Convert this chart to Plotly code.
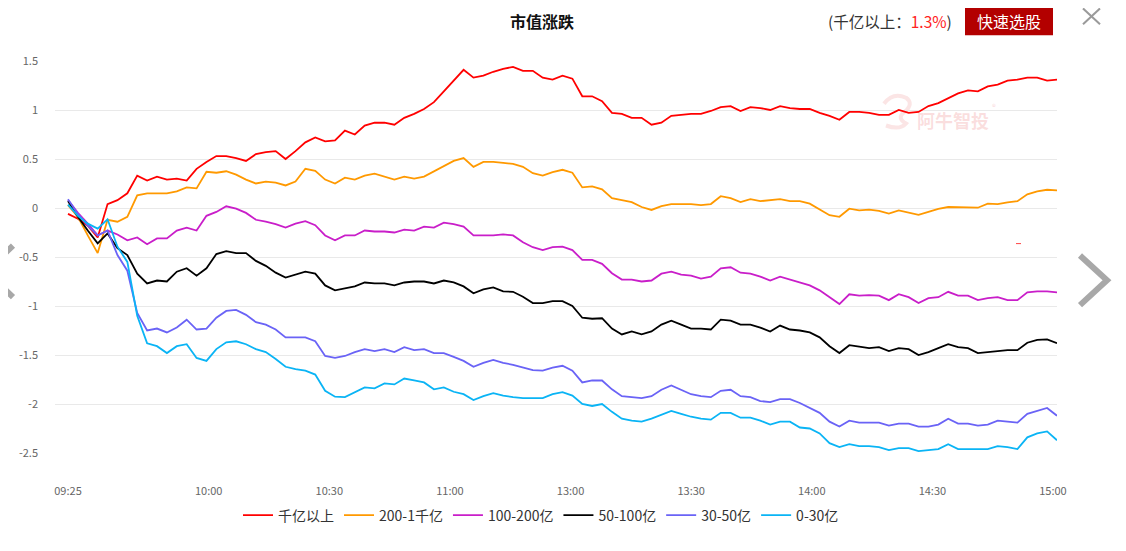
import numpy as np
import plotly.graph_objects as go

# ---------------- data ----------------
series_names = ["千亿以上", "200-1千亿", "100-200亿", "50-100亿", "30-50亿", "0-30亿"]
series_colors = ["#ff0000", "#ff9900", "#c91ec9", "#000000", "#6a63f6", "#0ab4f5"]

# sample times: trading minutes after 09:25 (lunch break removed), 101 samples
minutes = np.linspace(0, 246, 101)

tick_minutes = [0, 35, 65, 95, 125, 155, 185, 215, 245]
tick_labels = ["09:25", "10:00", "10:30", "11:00", "13:00", "13:30", "14:00", "14:30", "15:00"]

y_ticks = [1.5, 1, 0.5, 0, -0.5, -1, -1.5, -2, -2.5]
y_tick_labels = ["1.5", "1", "0.5", "0", "-0.5", "-1", "-1.5", "-2", "-2.5"]

red = [-0.06, -0.11, -0.18, -0.30, 0.04, 0.08, 0.15, 0.33, 0.28, 0.32, 0.29, 0.30, 0.28, 0.40, 0.47, 0.53, 0.53, 0.51, 0.48, 0.55, 0.57, 0.58, 0.50, 0.58, 0.67,
       0.72, 0.68, 0.69, 0.79, 0.75, 0.84, 0.87, 0.87, 0.85, 0.92, 0.96, 1.01, 1.08, 1.19, 1.30, 1.41, 1.33, 1.35, 1.39, 1.42, 1.44, 1.40, 1.40, 1.33, 1.31,
       1.35, 1.32, 1.14, 1.14, 1.09, 0.97, 0.96, 0.92, 0.92, 0.85, 0.87, 0.94, 0.95, 0.96, 0.96, 0.99, 1.03, 1.04, 0.99, 1.03, 1.02, 1.00, 1.04, 1.02, 1.01,
       1.01, 0.97, 0.94, 0.90, 0.98, 0.98, 0.97, 0.95, 0.95, 1.00, 0.97, 0.98, 1.04, 1.07, 1.12, 1.17, 1.20, 1.19, 1.24, 1.26, 1.30, 1.31, 1.33, 1.33, 1.30, 1.31]

orange = [0.03, -0.09, -0.28, -0.46, -0.12, -0.14, -0.09, 0.13, 0.15, 0.15, 0.15, 0.17, 0.21, 0.20, 0.37, 0.36, 0.375, 0.34, 0.29, 0.25, 0.27, 0.26, 0.23, 0.27, 0.40,
          0.38, 0.29, 0.25, 0.31, 0.29, 0.33, 0.35, 0.32, 0.29, 0.32, 0.30, 0.32, 0.375, 0.43, 0.48, 0.51, 0.42, 0.47, 0.47, 0.46, 0.45, 0.42, 0.355, 0.33, 0.365,
          0.39, 0.36, 0.21, 0.22, 0.19, 0.10, 0.08, 0.06, 0.01, -0.02, 0.02, 0.04, 0.04, 0.04, 0.03, 0.04, 0.12, 0.10, 0.06, 0.09, 0.07, 0.08, 0.09, 0.07, 0.07,
          0.044, -0.017, -0.074, -0.09, -0.007, -0.024, -0.017, -0.03, -0.057, -0.024, -0.044, -0.07, -0.04, -0.01, 0.01, 0.01, 0.01, 0.003, 0.044, 0.04, 0.057, 0.07, 0.14, 0.17, 0.186, 0.18]

magenta = [0.08, -0.05, -0.16, -0.28, -0.23, -0.27, -0.33, -0.30, -0.37, -0.31, -0.31, -0.23, -0.20, -0.23, -0.08, -0.04, 0.017, -0.007, -0.05, -0.12, -0.14, -0.165, -0.20, -0.16, -0.135,
           -0.175, -0.28, -0.33, -0.28, -0.28, -0.23, -0.24, -0.24, -0.25, -0.22, -0.23, -0.19, -0.20, -0.15, -0.165, -0.19, -0.28, -0.28, -0.28, -0.27, -0.28, -0.35, -0.40, -0.43, -0.40,
           -0.395, -0.43, -0.53, -0.53, -0.57, -0.665, -0.73, -0.73, -0.75, -0.74, -0.67, -0.65, -0.68, -0.69, -0.72, -0.70, -0.615, -0.605, -0.66, -0.67, -0.70, -0.74, -0.70, -0.73, -0.76,
           -0.79, -0.84, -0.91, -0.98, -0.88, -0.895, -0.89, -0.895, -0.94, -0.88, -0.91, -0.97, -0.92, -0.91, -0.855, -0.895, -0.895, -0.94, -0.92, -0.91, -0.94, -0.94, -0.86, -0.85, -0.85, -0.86]

black = [0.07, -0.09, -0.23, -0.36, -0.26, -0.41, -0.48, -0.67, -0.77, -0.74, -0.75, -0.65, -0.615, -0.69, -0.615, -0.47, -0.44, -0.46, -0.46, -0.54, -0.59, -0.66, -0.71, -0.68, -0.65,
         -0.67, -0.79, -0.84, -0.82, -0.80, -0.76, -0.77, -0.77, -0.79, -0.76, -0.75, -0.75, -0.77, -0.74, -0.76, -0.80, -0.87, -0.83, -0.81, -0.85, -0.855, -0.905, -0.97, -0.97, -0.95,
         -0.95, -1.00, -1.12, -1.13, -1.125, -1.23, -1.29, -1.26, -1.29, -1.26, -1.19, -1.15, -1.19, -1.23, -1.23, -1.24, -1.14, -1.15, -1.19, -1.19, -1.22, -1.26, -1.20, -1.24, -1.25,
         -1.27, -1.32, -1.41, -1.48, -1.40, -1.415, -1.43, -1.42, -1.46, -1.43, -1.44, -1.50, -1.47, -1.43, -1.39, -1.42, -1.43, -1.48, -1.47, -1.46, -1.45, -1.45, -1.375, -1.345, -1.34, -1.38]

purple = [0.09, -0.06, -0.18, -0.28, -0.23, -0.48, -0.64, -1.07, -1.25, -1.23, -1.27, -1.22, -1.14, -1.24, -1.23, -1.12, -1.05, -1.04, -1.09, -1.165, -1.19, -1.24, -1.32, -1.32, -1.32,
          -1.36, -1.51, -1.53, -1.51, -1.47, -1.44, -1.46, -1.44, -1.47, -1.42, -1.45, -1.44, -1.48, -1.48, -1.52, -1.56, -1.62, -1.58, -1.55, -1.58, -1.60, -1.625, -1.655, -1.66, -1.63,
          -1.61, -1.66, -1.78, -1.76, -1.76, -1.85, -1.92, -1.93, -1.94, -1.92, -1.855, -1.81, -1.855, -1.90, -1.92, -1.93, -1.865, -1.855, -1.92, -1.93, -1.97, -1.98, -1.95, -1.95, -1.99,
          -2.04, -2.09, -2.18, -2.23, -2.17, -2.19, -2.19, -2.19, -2.22, -2.20, -2.20, -2.23, -2.23, -2.21, -2.15, -2.20, -2.20, -2.22, -2.21, -2.17, -2.18, -2.19, -2.10, -2.07, -2.04, -2.12]

cyan = [0.034, -0.08, -0.16, -0.21, -0.115, -0.395, -0.55, -1.10, -1.38, -1.41, -1.48, -1.41, -1.39, -1.53, -1.56, -1.44, -1.37, -1.36, -1.39, -1.44, -1.47, -1.54, -1.62, -1.645, -1.66,
        -1.70, -1.865, -1.925, -1.93, -1.88, -1.83, -1.84, -1.79, -1.80, -1.74, -1.76, -1.78, -1.85, -1.83, -1.875, -1.90, -1.96, -1.92, -1.89, -1.915, -1.93, -1.94, -1.94, -1.94, -1.90,
        -1.88, -1.915, -2.00, -2.02, -2.00, -2.08, -2.15, -2.17, -2.18, -2.15, -2.11, -2.07, -2.10, -2.13, -2.15, -2.16, -2.09, -2.09, -2.14, -2.14, -2.17, -2.21, -2.18, -2.18, -2.24,
        -2.25, -2.30, -2.40, -2.44, -2.41, -2.43, -2.43, -2.44, -2.47, -2.45, -2.45, -2.48, -2.47, -2.46, -2.41, -2.46, -2.46, -2.46, -2.46, -2.43, -2.44, -2.46, -2.34, -2.30, -2.28, -2.37]

series_values = [red, orange, magenta, black, purple, cyan]

headline_label = "千亿以上："
headline_value = "1.3%"

# ---------------- layout helpers ----------------
# page is rendered with an 8px body margin; coordinates below are page pixels
OFF = 8
PAGE_W, PAGE_H = 1126, 551
W, H = PAGE_W - OFF, PAGE_H - 2 * OFF
L, R, T, B = 55, 1057, 61, 456   # plot area in page pixels
FONT = "Noto Sans CJK SC, Microsoft YaHei, sans-serif"


def px(x):
    return (x - L) / (R - L)


def py(y):
    return (B - y) / (B - T)


fig = go.Figure()
for name, color, vals in zip(series_names, series_colors, series_values):
    fig.add_trace(go.Scatter(
        x=minutes, y=vals, mode="lines", name=name,
        line=dict(color=color, width=1.8),
        hoverinfo="skip",
    ))

x_left = -(68 - L) / 4.02

fig.update_layout(
    width=W, height=H,
    margin=dict(l=L - OFF, r=W - (R - OFF), t=T - OFF, b=H - (B - OFF), pad=0),
    paper_bgcolor="white", plot_bgcolor="white",
    font=dict(family=FONT, color="#333"),
    showlegend=True,
    legend=dict(
        orientation="h", x=px(541), xanchor="center", y=py(519), yanchor="middle",
        font=dict(size=14, color="#333", family=FONT),
        itemwidth=30, bgcolor="rgba(0,0,0,0)", traceorder="normal",
    ),
    xaxis=dict(
        range=[x_left, 246], showgrid=False, zeroline=False, showline=False,
        tickmode="array", tickvals=tick_minutes, ticktext=tick_labels,
        ticks="", tickfont=dict(size=11, color="#666"), ticklabelstandoff=30,
        fixedrange=True,
    ),
    yaxis=dict(
        range=[-2.5, 1.5], showgrid=True, gridcolor="#e9e9e9", gridwidth=1,
        zeroline=False, showline=False,
        tickmode="array", tickvals=y_ticks, ticktext=y_tick_labels,
        ticks="", tickfont=dict(size=11, color="#666"), ticklabelstandoff=16,
        fixedrange=True,
    ),
)

shapes = []
annotations = []

# title
annotations.append(dict(
    xref="paper", yref="paper", x=px(542), y=py(20.5), xanchor="center", yanchor="middle",
    text="<b>市值涨跌</b>", showarrow=False, font=dict(size=16, color="#111", family=FONT),
))
# headline text
annotations.append(dict(
    xref="paper", yref="paper", x=px(826), y=py(21), xanchor="left", yanchor="middle",
    text="(" + headline_label + "<span style='color:#ff2222'>" + headline_value + "</span>)",
    showarrow=False, font=dict(size=15.5, color="#333", family=FONT),
))
# button
shapes.append(dict(type="rect", xref="paper", yref="paper",
                   x0=px(965), x1=px(1053), y0=py(35), y1=py(6),
                   fillcolor="#b30000", line=dict(width=0), layer="above"))
annotations.append(dict(
    xref="paper", yref="paper", x=px(1009), y=py(21), xanchor="center", yanchor="middle",
    text="快速选股", showarrow=False, font=dict(size=16, color="white", family=FONT),
))
# close X
for (a, b, c, d) in [(1083, 8, 1100, 24), (1083, 24, 1100, 8)]:
    shapes.append(dict(type="line", xref="paper", yref="paper",
                       x0=px(a), y0=py(b), x1=px(c), y1=py(d),
                       line=dict(color="#9a9a9a", width=2), layer="above"))
# right chevron
shapes.append(dict(type="path", xref="paper", yref="paper",
                   path=f"M {px(1080)} {py(257)} L {px(1107)} {py(282)} L {px(1080)} {py(307)}",
                   line=dict(color="#a8a8a8", width=6), layer="above"))
# left chevron (cut off at page edge)
shapes.append(dict(type="path", xref="paper", yref="paper",
                   path=f"M {px(13)} {py(247)} L {px(-14)} {py(273)} L {px(13)} {py(299)}",
                   line=dict(color="#a8a8a8", width=6), layer="above"))
# right border line
shapes.append(dict(type="line", xref="paper", yref="paper",
                   x0=px(1124.5), x1=px(1124.5), y0=py(0), y1=py(560),
                   line=dict(color="#555", width=2), layer="above"))
# tiny red dash artifact
shapes.append(dict(type="line", xref="paper", yref="paper",
                   x0=px(1016), x1=px(1021), y0=py(245), y1=py(245),
                   line=dict(color="#ff4444", width=1), layer="above"))
# watermark
shapes.append(dict(type="path", xref="paper", yref="paper",
                   path=(f"M {px(884)} {py(104)} Q {px(893)} {py(92)} {px(906)} {py(98)} "
                         f"Q {px(914)} {py(104)} {px(905)} {py(112)} Q {px(896)} {py(118)} {px(906)} {py(124)} "
                         f"Q {px(900)} {py(131)} {px(886)} {py(126)}"),
                   line=dict(color="rgba(240,150,150,0.25)", width=4), layer="below"))
annotations.append(dict(
    xref="paper", yref="paper", x=px(953), y=py(120), xanchor="center", yanchor="middle",
    text="<b>阿牛智投</b>", showarrow=False,
    font=dict(size=18, color="rgba(240,140,140,0.28)", family=FONT),
))
annotations.append(dict(
    xref="paper", yref="paper", x=px(994), y=py(107), xanchor="center", yanchor="middle",
    text="®", showarrow=False, font=dict(size=8, color="rgba(240,140,140,0.35)", family=FONT),
))

fig.update_layout(shapes=shapes, annotations=annotations)

fig.write_html("out.html")
